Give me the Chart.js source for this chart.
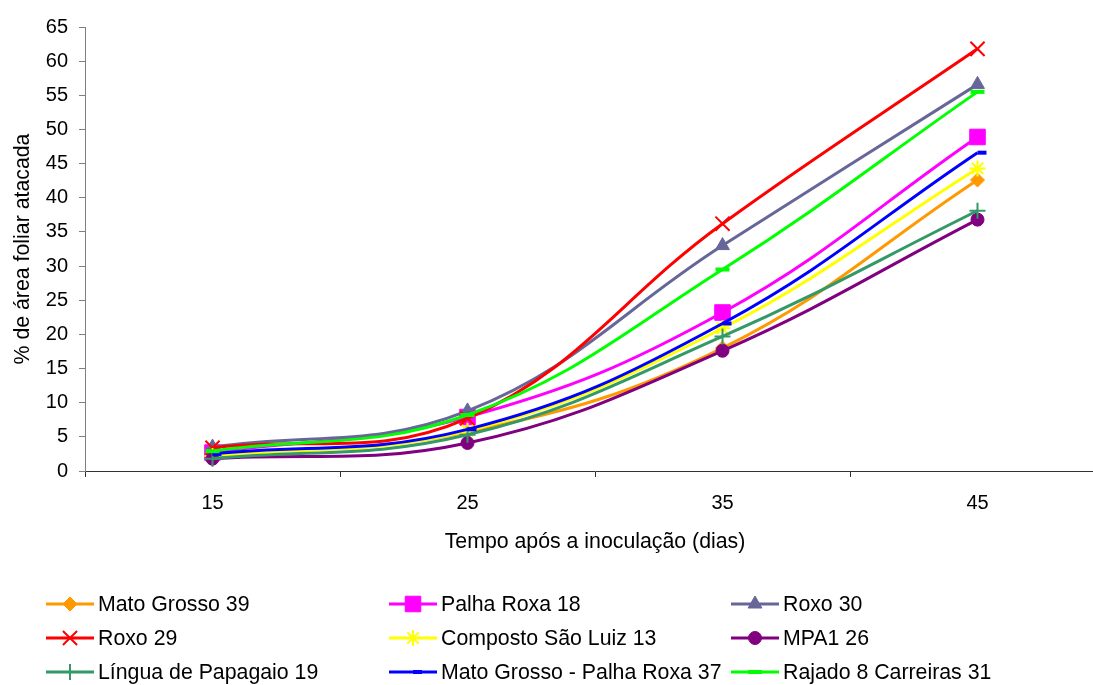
<!DOCTYPE html>
<html>
<head>
<meta charset="utf-8">
<script src="https://cdn.jsdelivr.net/npm/chart.js@4/dist/chart.umd.min.js"></script>
<style>
  html, body { margin: 0; padding: 0; background: #fff; overflow: hidden; }
  #wrap { width: 1118px; height: 685px; }
</style>
</head>
<body>
<div id="wrap"><canvas id="grafico" width="1118" height="685"></canvas></div>
<script>
// dias após a inoculação
const dias = ['15', '25', '35', '45'];

// % de área foliar atacada por genótipo
const matoGrosso39 = [2.3, 5.7, 18.0, 42.6];
const palhaRoxa18 = [2.7, 7.9, 23.2, 48.9];
const roxo30 = [3.5, 8.8, 33.0, 56.6];
const roxo29 = [3.4, 7.7, 36.2, 61.8];
const compostoSaoLuiz13 = [2.2, 5.9, 20.9, 44.3];
const mpa1_26 = [1.8, 4.1, 17.6, 36.8];
const linguaPapagaio19 = [1.8, 5.3, 19.7, 38.1];
const matoGrossoPalhaRoxa37 = [2.5, 6.1, 21.6, 46.6];
const rajado8Carreiras31 = [2.9, 8.2, 29.5, 55.5];

const yTicks = [0, 5, 10, 15, 20, 25, 30, 35, 40, 45, 50, 55, 60, 65];

const FONTE = '"Liberation Sans", Arial, sans-serif';

const series = [
    { label: 'Mato Grosso 39', data: matoGrosso39, cor: '#FF9900', estilo: 'rectRot', raio: 7, bw: 1 },
    { label: 'Palha Roxa 18', data: palhaRoxa18, cor: '#FF00FF', estilo: 'rect', raio: 11, bw: 1 },
    { label: 'Roxo 30', data: roxo30, cor: '#666699', estilo: 'triangle', raio: 8, bw: 1 },
    { label: 'Roxo 29', data: roxo29, cor: '#FF0000', estilo: 'crossRot', raio: 10, bw: 2 },
    { label: 'Composto São Luiz 13', data: compostoSaoLuiz13, cor: '#FFFF00', estilo: 'star', raio: 8, bw: 2 },
    { label: 'MPA1 26', data: mpa1_26, cor: '#800080', estilo: 'circle', raio: 6.5, bw: 1 },
    { label: 'Língua de Papagaio 19', data: linguaPapagaio19, cor: '#339966', estilo: 'cross', raio: 8, bw: 2 },
    { label: 'Mato Grosso - Palha Roxa 37', data: matoGrossoPalhaRoxa37, cor: '#0000FF', estilo: 'dash', raio: 9, bw: 4 },
    { label: 'Rajado 8 Carreiras 31', data: rajado8Carreiras31, cor: '#00FF00', estilo: 'line', raio: 7, bw: 4 }
];

// legenda em grade de 3 colunas, como no Excel
const legendaGrade = {
    id: 'legendaGrade',
    afterDraw(chart) {
        const ctx = chart.ctx;
        const colX = [46, 389, 731];
        const rowY = [604, 638, 672];
        ctx.save();
        chart.data.datasets.forEach((ds, i) => {
            const x0 = colX[i % 3];
            const y = rowY[Math.floor(i / 3)];
            ctx.strokeStyle = ds.borderColor;
            ctx.lineWidth = 3;
            ctx.beginPath();
            ctx.moveTo(x0, y);
            ctx.lineTo(x0 + 48, y);
            ctx.stroke();

            ctx.fillStyle = ds.pointBackgroundColor;
            ctx.strokeStyle = ds.pointBorderColor;
            ctx.lineWidth = ds.pointBorderWidth;
            Chart.helpers.drawPoint(ctx, {
                pointStyle: ds.pointStyle,
                radius: ds.pointRadius,
                borderWidth: ds.pointBorderWidth,
                rotation: 0
            }, x0 + 24, y);

            ctx.fillStyle = '#000';
            ctx.font = '21.3px ' + FONTE;
            ctx.textBaseline = 'middle';
            ctx.textAlign = 'left';
            ctx.fillText(ds.label, x0 + 52, y + 1);
        });
        ctx.restore();
    }
};

new Chart(document.getElementById('grafico'), {
    type: 'line',
    data: {
        labels: dias,
        datasets: series.map((s, i) => ({
            label: s.label,
            data: s.data,
            borderColor: s.cor,
            backgroundColor: s.cor,
            borderWidth: 3,
            tension: 0.4,
            fill: false,
            pointStyle: s.estilo,
            pointRadius: s.raio,
            pointBackgroundColor: s.cor,
            pointBorderColor: s.cor,
            pointBorderWidth: s.bw,
            order: series.length - i
        }))
    },
    options: {
        responsive: false,
        animation: false,
        layout: { padding: { top: 27, right: 7, bottom: 130, left: 0 } },
        plugins: {
            legend: { display: false },
            tooltip: { enabled: false }
        },
        scales: {
            x: {
                offset: true,
                grid: { display: true, drawOnChartArea: false, offset: true, tickLength: 6, color: '#333' },
                border: { color: '#333', width: 1 },
                ticks: { color: '#000', padding: 14, font: { family: FONTE, size: 20 } },
                title: {
                    display: true,
                    text: 'Tempo após a inoculação (dias)',
                    color: '#000',
                    padding: { top: 0, bottom: 0 },
                    font: { family: FONTE, size: 21.3 }
                },
                afterFit: s => { s.height = 84; }
            },
            y: {
                min: 0,
                max: 65,
                afterBuildTicks: s => { s.ticks = yTicks.map(v => ({ value: v })); },
                grid: { display: true, drawOnChartArea: false, tickLength: 6, color: '#7f7f7f' },
                border: { color: '#7f7f7f', width: 1 },
                ticks: { color: '#000', padding: 11, font: { family: FONTE, size: 20 } },
                title: {
                    display: true,
                    text: '% de área foliar atacada',
                    color: '#000',
                    padding: { top: 10, bottom: 0 },
                    font: { family: FONTE, size: 21.3 }
                },
                afterFit: s => { s.width = 85; }
            }
        }
    },
    plugins: [legendaGrade]
});
</script>
</body>
</html>
